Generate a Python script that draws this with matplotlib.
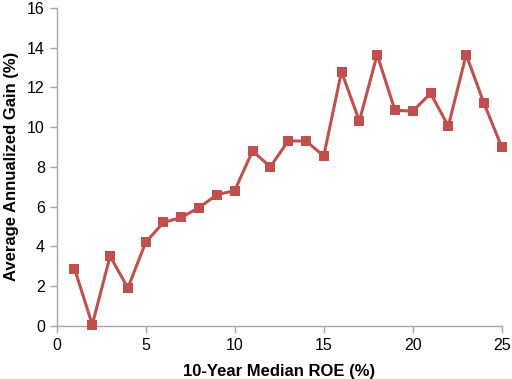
import matplotlib
matplotlib.use("Agg")
import matplotlib.pyplot as plt

# 10-year median ROE (%) vs average annualized gain (%)
roe = [1, 2, 3, 4, 5, 6, 7, 8, 9, 10, 11, 12, 13, 14, 15, 16, 17, 18, 19, 20, 21, 22, 23, 24, 25]
gain = [2.88, 0.05, 3.5, 1.9, 4.2, 5.2, 5.45, 5.95, 6.6, 6.8, 8.8, 8.0, 9.3, 9.3, 8.55,
        12.8, 10.3, 13.65, 10.85, 10.8, 11.7, 10.05, 13.65, 11.2, 9.0]

xticks = [0, 5, 10, 15, 20, 25]
yticks = [0, 2, 4, 6, 8, 10, 12, 14, 16]

plt.rcParams["font.family"] = ["Liberation Sans", "DejaVu Sans"]

fig = plt.figure(figsize=(5.12, 3.79), dpi=100)
ax = fig.add_axes([0.1107, 0.1406, 0.8693, 0.8384])

ax.plot(roe, gain, color="#C0504D", linewidth=2.2, marker="s", markersize=6.5,
        markeredgewidth=0, clip_on=False, zorder=3)

ax.set_xlim(0, 25)
ax.set_ylim(0, 16)
ax.set_xticks(xticks)
ax.set_yticks(yticks)

for side in ["top", "right"]:
    ax.spines[side].set_visible(False)
for side in ["left", "bottom"]:
    ax.spines[side].set_color("#A6A6A6")
    ax.spines[side].set_linewidth(1.0)

ax.tick_params(axis="both", colors="#A6A6A6", labelcolor="black", labelsize=11.5,
               length=5, width=1.0, direction="out")

ax.set_xlabel("10-Year Median ROE (%)", fontsize=12, fontweight="bold", labelpad=8)
ax.set_ylabel("Average Annualized Gain (%)", fontsize=12, fontweight="bold", labelpad=6)

fig.savefig("out.png", dpi=100)
